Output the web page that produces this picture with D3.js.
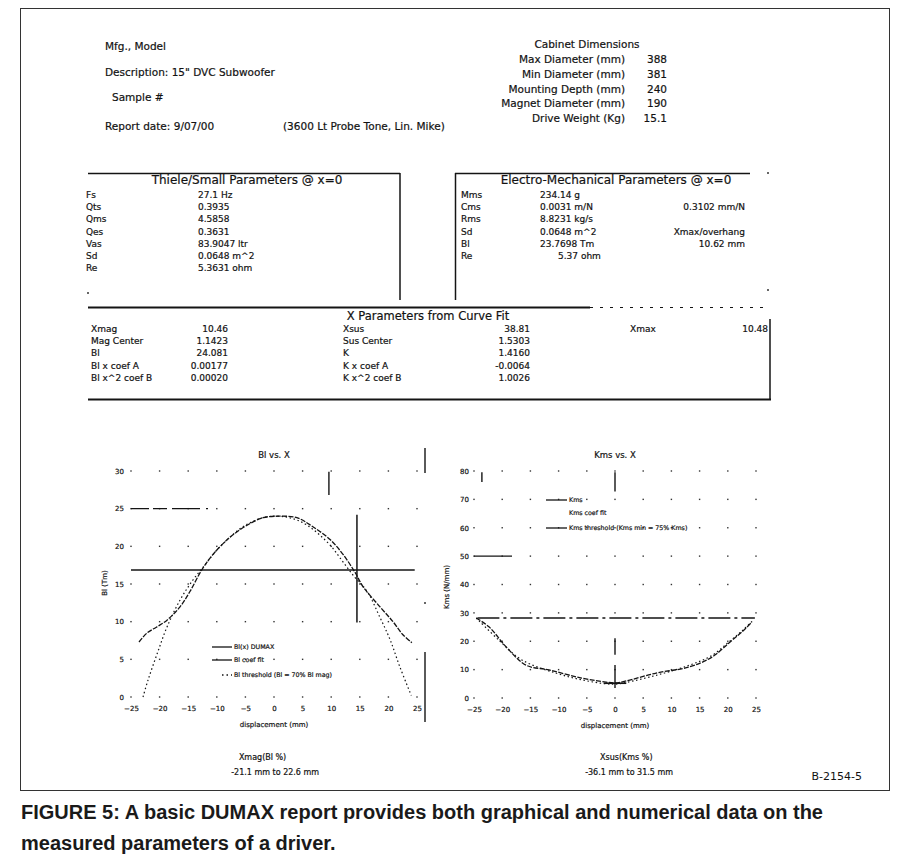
<!DOCTYPE html>
<html><head><meta charset="utf-8">
<script src="https://cdn.jsdelivr.net/npm/d3@7"></script>
<style>
html,body{margin:0;padding:0;background:#fff;}
svg text{font-family:"DejaVu Sans",Verdana,sans-serif;fill:#121212;stroke:#121212;stroke-width:0.2px;}
svg text.cap{font-family:"Liberation Sans Narrow","Liberation Sans",Arial,sans-serif;font-weight:bold;font-size:20px;fill:#1a1a1a;stroke:none;}
</style></head><body>
<svg id="page" width="908" height="860"></svg>
<script>
// ---- report header ----
const headerLines = ["Mfg., Model", "Description: 15\" DVC Subwoofer", "Sample #", "Report date: 9/07/00"];
const headerNote = "(3600 Lt Probe Tone, Lin. Mike)";
const cabinetTitle = "Cabinet Dimensions";
const cabinetLabels = ["Max Diameter (mm)", "Min Diameter (mm)", "Mounting Depth (mm)", "Magnet Diameter (mm)", "Drive Weight (Kg)"];
const cabinetValues = ["388", "381", "240", "190", "15.1"];

// ---- parameter tables ----
const tsTitle = "Thiele/Small Parameters @ x=0";
const tsLabels = ["Fs", "Qts", "Qms", "Qes", "Vas", "Sd", "Re"];
const tsValues = ["27.1 Hz", "0.3935", "4.5858", "0.3631", "83.9047 ltr", "0.0648 m^2", "5.3631 ohm"];

const emTitle = "Electro-Mechanical Parameters @ x=0";
const emLabels = ["Mms", "Cms", "Rms", "Sd", "Bl", "Re"];
const emValues = ["234.14 g", "0.0031 m/N", "8.8231 kg/s", "0.0648 m^2", "23.7698 Tm", "5.37 ohm"];
const emNotes = ["", "0.3102 mm/N", "", "Xmax/overhang", "10.62 mm", ""];

const xpTitle = "X Parameters from Curve Fit";
const xpLabelsA = ["Xmag", "Mag Center", "Bl", "Bl x coef A", "Bl x^2 coef B"];
const xpValuesA = ["10.46", "1.1423", "24.081", "0.00177", "0.00020"];
const xpLabelsB = ["Xsus", "Sus Center", "K", "K x coef A", "K x^2 coef B"];
const xpValuesB = ["38.81", "1.5303", "1.4160", "-0.0064", "1.0026"];
const xmaxLabel = "Xmax";
const xmaxValue = "10.48";

// ---- Bl vs. X ----
const xTicks = [-25, -20, -15, -10, -5, 0, 5, 10, 15, 20, 25];
const blTicks = [0, 5, 10, 15, 20, 25, 30];
const blX        = [-23.6, -22.2, -20.5, -18.7, -16.4, -14.7, -12.6, -10.7, -7.7, -4.7, -1.9, 1.0, 4.0, 6.8, 9.8, 12.1, 14.2, 15.6, 18.5, 20.8, 22.5, 24.1];
const blMeasured = [7.3, 8.5, 9.3, 10.2, 12.0, 14.0, 16.9, 18.9, 21.2, 22.8, 23.8, 24.0, 23.8, 22.6, 20.9, 18.9, 16.5, 14.6, 12.0, 10.0, 8.3, 7.2];
const blFitX = [-22.9, -22.0, -20.4, -18.7, -16.4, -14.2, -12.0, -10.0, -8.0, -6.0, -4.0, -2.0, 0.0, 2.0, 4.0, 6.0, 8.0, 10.0, 12.0, 14.0, 16.3, 18.5, 20.3, 22.0, 24.0];
const blFit  = [0.0, 2.3, 5.8, 9.3, 12.9, 15.5, 17.6, 19.5, 21.0, 22.3, 23.2, 23.8, 24.0, 23.9, 23.5, 22.7, 21.5, 20.0, 18.0, 16.0, 14.0, 10.6, 7.6, 4.0, 0.2];
const blThreshold = 16.86;
const blMarkX = 14.5;
const blLegend = ["Bl(x) DUMAX", "Bl coef fit", "Bl threshold (Bl = 70% Bl mag)"];
const blRange = ["Xmag(Bl %)", "-21.1 mm to 22.6 mm"];

// ---- Kms vs. X ----
const kmsTicks = [0, 10, 20, 30, 40, 50, 60, 70, 80];
const kmsX        = [-24.6, -22.3, -19.3, -15.8, -11.7, -5.9, -1.6, 0.0, 2.0, 7.3, 13.1, 17.2, 20.2, 22.5, 24.3];
const kmsMeasured = [28.2, 25.0, 18.0, 11.6, 9.9, 7.0, 5.6, 5.3, 6.0, 8.8, 10.9, 14.4, 19.4, 23.3, 26.8];
const kmsFitX = [-24.6, -20.6, -16.5, -10.5, -5.9, -1.6, 0.0, 2.0, 7.3, 13.1, 17.2, 20.2, 22.5, 24.3];
const kmsFit  = [28.2, 20.4, 13.4, 8.8, 6.4, 5.0, 4.9, 5.5, 8.0, 11.5, 15.0, 19.8, 23.6, 27.0];
const kmsThreshold = 28.2;
const kmsLegend = ["Kms", "Kms coef fit", "Kms threshold (Kms min = 75% Kms)"];
const kmsRange = ["Xsus(Kms %)", "-36.1 mm to 31.5 mm"];

const figureLabel = "B-2154-5";
const captionLines = ["FIGURE 5: A basic DUMAX report provides both graphical and numerical data on the",
                      "measured parameters of a driver."];

const svg = d3.select("#page");
const ink = "#141414";

// outer frame of the report
svg.append("rect").attr("x", 20.5).attr("y", 8.5).attr("width", 869).attr("height", 782)
  .attr("fill", "none").attr("stroke", "#333").attr("stroke-width", 1);

function txt(x, y, size, t, anchor) {
  return svg.append("text").attr("x", x).attr("y", y).attr("font-size", size)
    .attr("text-anchor", anchor || "start").text(t);
}
function hline(x1, x2, y, w, dash) {
  const l = svg.append("line").attr("x1", x1).attr("x2", x2).attr("y1", y).attr("y2", y)
    .attr("stroke", ink).attr("stroke-width", w || 1);
  if (dash) l.attr("stroke-dasharray", dash);
  return l;
}
function vline(x, y1, y2, w, dash) {
  const l = svg.append("line").attr("x1", x).attr("x2", x).attr("y1", y1).attr("y2", y2)
    .attr("stroke", ink).attr("stroke-width", w || 1);
  if (dash) l.attr("stroke-dasharray", dash);
  return l;
}
function dot(x, y) { svg.append("rect").attr("x", x - 0.8).attr("y", y - 0.8).attr("width", 1.6).attr("height", 1.6).attr("fill", ink); }

// header block
const hdrY = [50, 76, 101, 130];
const hdrX = [105, 105, 112, 105];
headerLines.forEach((t, i) => txt(hdrX[i], hdrY[i], 10.5, t));
txt(283, 130, 10.5, headerNote);

txt(587, 48, 10.5, cabinetTitle, "middle");
cabinetLabels.forEach((t, i) => {
  const y = 63 + i * 14.8;
  txt(625, y, 10.5, t, "end");
  txt(667, y, 10.5, cabinetValues[i], "end");
});

// Thiele/Small block
hline(88, 400, 173.5, 1.5);
vline(400, 173, 300, 1.5);
txt(247, 184, 12, tsTitle, "middle");
tsLabels.forEach((t, i) => {
  const y = 198 + i * 12.2;
  txt(86, y, 9, t);
  txt(198, y, 9, tsValues[i]);
});
dot(88, 293);

// Electro-mechanical block
hline(455, 750, 173.5, 1.5);
vline(455.5, 173, 300, 1.5);
txt(616, 184, 12, emTitle, "middle");
emLabels.forEach((t, i) => {
  const y = 198 + i * 12.2;
  txt(461, y, 9, t);
  txt(i === 5 ? 558 : 540, y, 9, emValues[i]);
  if (emNotes[i]) txt(745, y, 9, emNotes[i], "end");
});
dot(768, 173); dot(768, 290);

// X parameter block
hline(88, 590, 307.5, 1.8);
hline(590, 770, 307.5, 1.2, "3,7");
txt(428, 320, 11.5, xpTitle, "middle");
vline(770, 319, 400, 1.5);
hline(88, 771, 399.5, 2.2);
xpLabelsA.forEach((t, i) => {
  const y = 332 + i * 12.2;
  txt(91, y, 9, t);
  txt(228, y, 9, xpValuesA[i], "end");
  txt(343, y, 9, xpLabelsB[i]);
  txt(530, y, 9, xpValuesB[i], "end");
});
txt(630, 332, 9, xmaxLabel);
txt(768, 332, 9, xmaxValue, "end");

// ---- shared chart drawing ----
function drawChart(cfg) {
  const g = svg.append("g");
  const x = d3.scaleLinear().domain([-25, 25]).range(cfg.xr);
  const y = d3.scaleLinear().domain(cfg.yd).range(cfg.yr);

  // dotted grid: only the crossings remain visible
  cfg.yTicks.forEach(v => xTicks.forEach(u => {
    g.append("rect").attr("x", x(u) - 0.7).attr("y", y(v) - 0.7).attr("width", 1.4).attr("height", 1.4).attr("fill", "#333");
  }));

  const ax = g.append("g").attr("transform", `translate(0,${cfg.yr[0]})`)
    .call(d3.axisBottom(x).tickValues(xTicks).tickSize(0).tickPadding(9));
  ax.select(".domain").remove();
  ax.selectAll("text").attr("font-size", 7).attr("font-family", "DejaVu Sans, Verdana, sans-serif").attr("fill", ink);

  const ay = g.append("g").attr("transform", `translate(${cfg.xr[0]},0)`)
    .call(d3.axisLeft(y).tickValues(cfg.yTicks).tickSize(0).tickPadding(cfg.ypad));
  ay.select(".domain").remove();
  ay.selectAll("text").attr("font-size", 7).attr("font-family", "DejaVu Sans, Verdana, sans-serif").attr("fill", ink);

  g.append("text").attr("x", x(0)).attr("y", 458).attr("text-anchor", "middle").attr("font-size", 8.5).text(cfg.title);
  g.append("text").attr("x", x(0)).attr("y", cfg.yr[0] + 30).attr("text-anchor", "middle").attr("font-size", 7).text("displacement (mm)");
  g.append("text").attr("transform", `translate(${cfg.ylabX},${cfg.ylabY}) rotate(-90)`)
    .attr("text-anchor", "middle").attr("font-size", 7).text(cfg.ylab);

  const line = d3.line().x(d => x(d[0])).y(d => y(d[1])).curve(d3.curveCatmullRom.alpha(0.5));
  g.append("path").attr("d", line(d3.zip(cfg.fitX, cfg.fit))).attr("fill", "none")
    .attr("stroke", ink).attr("stroke-width", 1.2).attr("stroke-dasharray", "1.5,2.6");
  g.append("path").attr("d", line(d3.zip(cfg.measX, cfg.meas))).attr("fill", "none")
    .attr("stroke", ink).attr("stroke-width", 1.3).attr("stroke-dasharray", "5,1.4");

  return { g, x, y };
}

// Bl vs. X
const bl = drawChart({
  xr: [131, 417], yd: [0, 30], yr: [697, 471], yTicks: blTicks, ypad: 7,
  title: "Bl vs. X", ylab: "Bl (Tm)", ylabX: 107, ylabY: 583,
  measX: blX, meas: blMeasured, fitX: blFitX, fit: blFit
});
bl.g.append("line").attr("x1", bl.x(-25)).attr("x2", bl.x(-10)).attr("y1", bl.y(25)).attr("y2", bl.y(25))
  .attr("stroke", ink).attr("stroke-width", 1.3).attr("stroke-dasharray", "18,4,14,5,28,6,2,9,2,9");
bl.g.append("line").attr("x1", bl.x(-25)).attr("x2", bl.x(24.6)).attr("y1", bl.y(blThreshold)).attr("y2", bl.y(blThreshold))
  .attr("stroke", ink).attr("stroke-width", 1.5);
bl.g.append("line").attr("x1", bl.x(blMarkX)).attr("x2", bl.x(blMarkX)).attr("y1", bl.y(24.2)).attr("y2", bl.y(9.9))
  .attr("stroke", ink).attr("stroke-width", 1.5);
bl.g.append("line").attr("x1", bl.x(9.6)).attr("x2", bl.x(9.6)).attr("y1", bl.y(29.9)).attr("y2", bl.y(26.8))
  .attr("stroke", ink).attr("stroke-width", 1.4);
// right edge separator of the left chart
vline(425, 448, 473, 1.4); dot(425, 603); vline(425, 652, 722, 1.4);

// Bl legend
[[647, null], [660, null], [675, "1.5,3"]].forEach((r, i) => {
  const l = svg.append("line").attr("x1", i === 2 ? 222 : 212).attr("x2", 232).attr("y1", r[0]).attr("y2", r[0])
    .attr("stroke", ink).attr("stroke-width", 1.3);
  if (r[1]) l.attr("stroke-dasharray", r[1]);
  txt(234, r[0] + 2.3, 6.3, blLegend[i]);
});
txt(bl.x(-2), 760, 8, blRange[0], "middle");
txt(bl.x(0.2), 775, 8, blRange[1], "middle");

// Kms vs. X
const km = drawChart({
  xr: [474, 756], yd: [0, 80], yr: [698, 471], yTicks: kmsTicks, ypad: 5,
  title: "Kms vs. X", ylab: "Kms (N/mm)", ylabX: 449, ylabY: 587,
  measX: kmsX, meas: kmsMeasured, fitX: kmsFitX, fit: kmsFit
});
km.g.append("line").attr("x1", km.x(-25)).attr("x2", km.x(-17)).attr("y1", km.y(50)).attr("y2", km.y(50))
  .attr("stroke", ink).attr("stroke-width", 1.3).attr("stroke-dasharray", "38,15,5");
km.g.append("line").attr("x1", km.x(-24.4)).attr("x2", km.x(24.8)).attr("y1", km.y(kmsThreshold)).attr("y2", km.y(kmsThreshold))
  .attr("stroke", ink).attr("stroke-width", 1.3).attr("stroke-dasharray", "22,4,3,4");
[[72.8, 79.6], [15.2, 21.1], [3.5, 11.6]].forEach(s => {
  km.g.append("line").attr("x1", km.x(0)).attr("x2", km.x(0)).attr("y1", km.y(s[0])).attr("y2", km.y(s[1]))
    .attr("stroke", ink).attr("stroke-width", 1.4);
});
km.g.append("line").attr("x1", km.x(-2)).attr("x2", km.x(2)).attr("y1", km.y(5.2)).attr("y2", km.y(5.2))
  .attr("stroke", ink).attr("stroke-width", 1.6);
km.g.append("line").attr("x1", km.x(-23.6)).attr("x2", km.x(-23.6)).attr("y1", km.y(76.1)).attr("y2", km.y(79.6))
  .attr("stroke", ink).attr("stroke-width", 1.4);

// Kms legend
[[500, true], [513, false], [528, true]].forEach((r, i) => {
  if (r[1]) svg.append("line").attr("x1", 546).attr("x2", 567).attr("y1", r[0]).attr("y2", r[0])
    .attr("stroke", ink).attr("stroke-width", 1.3);
  txt(569, r[0] + 2.3, 6.3, kmsLegend[i]);
});
txt(km.x(2), 760, 8, kmsRange[0], "middle");
txt(km.x(2.5), 775, 8, kmsRange[1], "middle");

svg.append("text").attr("x", 862).attr("y", 780).attr("text-anchor", "end").style("stroke", "none")
  .attr("font-family", "Liberation Sans, Arial, sans-serif").attr("font-size", 11).attr("fill", "#333").text(figureLabel);

// figure caption
captionLines.forEach((t, i) => svg.append("text").attr("class", "cap").attr("x", 21).attr("y", 819 + i * 31).text(t));
</script>
</body></html>
